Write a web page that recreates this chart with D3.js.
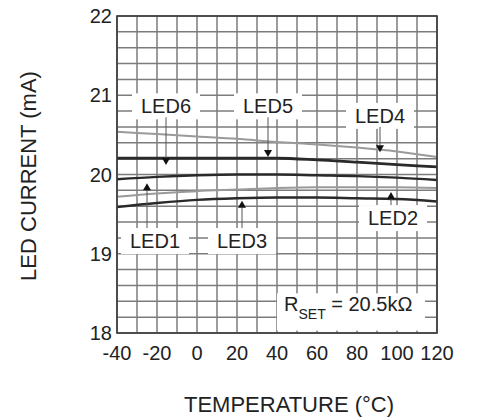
<!DOCTYPE html>
<html>
<head>
<meta charset="utf-8">
<script src="https://cdn.jsdelivr.net/npm/d3@7"></script>
<style>
body { margin: 0; background: #fff; }
text { font-family: "Liberation Sans", Arial, sans-serif; fill: #222; }
</style>
</head>
<body>
<svg id="viz" width="480" height="418"></svg>
<script>
// data
const temps = [-40, -20, 0, 20, 40, 60, 80, 100, 120];
const led4 = [20.54, 20.51, 20.48, 20.45, 20.41, 20.38, 20.34, 20.29, 20.22];
const led5 = [20.21, 20.21, 20.21, 20.21, 20.21, 20.19, 20.16, 20.13, 20.10];
const led6 = [20.20, 20.20, 20.20, 20.20, 20.20, 20.18, 20.15, 20.12, 20.09];
const led1 = [19.94, 19.97, 19.99, 20.00, 20.00, 19.99, 19.98, 19.96, 19.93];
const led3 = [19.72, 19.76, 19.79, 19.81, 19.83, 19.84, 19.84, 19.84, 19.83];
const led2 = [19.59, 19.64, 19.68, 19.70, 19.71, 19.71, 19.70, 19.69, 19.66];
const xTicks = [-40, -20, 0, 20, 40, 60, 80, 100, 120];
const yTicks = [18, 19, 20, 21, 22];

// label: text, label pos (T, mA), arrow tip (T, mA), direction
const labels = [
    {name: "LED6", lx: -15.5, ly: 20.86, tx: -15.5, ty: 20.12, dir: "down"},
    {name: "LED5", lx: 35.5, ly: 20.86, tx: 35.5, ty: 20.22, dir: "down"},
    {name: "LED4", lx: 91.5, ly: 20.74, tx: 91.5, ty: 20.28, dir: "down"},
    {name: "LED1", lx: -21, ly: 19.16, tx: -25, ty: 19.89, dir: "up"},
    {name: "LED3", lx: 22.5, ly: 19.16, tx: 22.5, ty: 19.67, dir: "up"},
    {name: "LED2", lx: 98, ly: 19.45, tx: 97, ty: 19.78, dir: "up"}
];

const series = [
    {v: led4, c: "#9a9a9a", w: 2},
    {v: led3, c: "#9a9a9a", w: 2},
    {v: led6, c: "#2a2a2a", w: 2},
    {v: led5, c: "#2a2a2a", w: 2},
    {v: led1, c: "#2a2a2a", w: 2.4},
    {v: led2, c: "#2a2a2a", w: 2.4}
];

const svg = d3.select("#viz");
const margin = {top: 16, right: 43, bottom: 85, left: 117};
const width = 480 - margin.left - margin.right;
const height = 418 - margin.top - margin.bottom;

const x = d3.scaleLinear().domain([-40, 120]).range([0, width]);
const y = d3.scaleLinear().domain([18, 22]).range([height, 0]);

const g = svg.append("g").attr("transform", `translate(${margin.left},${margin.top})`);

// grid, every 10 deg and every 0.2 mA
g.append("g").selectAll("line.vg")
    .data(d3.range(-40, 121, 10))
    .enter().append("line")
    .attr("x1", d => x(d)).attr("x2", d => x(d))
    .attr("y1", 0).attr("y2", height)
    .style("stroke", "#7c7c7c").style("stroke-width", 1.5);

g.append("g").selectAll("line.hg")
    .data(d3.range(0, 21).map(i => 18 + i * 0.2))
    .enter().append("line")
    .attr("x1", 0).attr("x2", width)
    .attr("y1", d => y(d)).attr("y2", d => y(d))
    .style("stroke", "#7c7c7c").style("stroke-width", 1.5);

// curves
const line = d3.line()
    .x((d, i) => x(temps[i]))
    .y(d => y(d))
    .curve(d3.curveMonotoneX);

g.selectAll(".curve")
    .data(series)
    .enter().append("path")
    .attr("class", "curve")
    .attr("d", d => line(d.v))
    .style("fill", "none")
    .style("stroke", d => d.c)
    .style("stroke-width", d => d.w);

// labels with white boxes, stems and arrowheads
labels.forEach(l => {
    const px = x(l.lx), py = y(l.ly);
    const tx = x(l.tx), ty = y(l.ty);
    g.append("rect")
        .attr("x", px - 34).attr("y", py - 13)
        .attr("width", 68).attr("height", 26)
        .style("fill", "#fff");
    const stemStart = l.dir == "down" ? py + 11 : py - 13;
    const baseY = l.dir == "down" ? ty - 7 : ty + 7;
    g.append("line")
        .attr("x1", tx).attr("x2", tx)
        .attr("y1", stemStart).attr("y2", baseY)
        .style("stroke", "#555").style("stroke-width", 1);
    g.append("path")
        .attr("d", `M${tx - 4},${baseY} L${tx + 4},${baseY} L${tx},${ty} Z`)
        .style("fill", "#111");
    g.append("text")
        .attr("x", px).attr("y", py + 7)
        .attr("text-anchor", "middle")
        .style("font-size", "20px")
        .text(l.name);
});

// R_SET note
g.append("rect")
    .attr("x", x(40)).attr("y", y(18.5))
    .attr("width", x(114) - x(40)).attr("height", y(18.03) - y(18.5))
    .style("fill", "#fff");
const note = g.append("text")
    .attr("x", x(43.5)).attr("y", y(18.28))
    .style("font-size", "20px");
note.append("tspan").text("R");
note.append("tspan").attr("dy", 8).style("font-size", "14px").text("SET");
note.append("tspan").attr("dy", -8).text(" = 20.5k\u03A9");

// frame
g.append("rect")
    .attr("width", width).attr("height", height)
    .style("fill", "none").style("stroke", "#3a3a3a").style("stroke-width", 1.6);

// tick labels
g.selectAll(".xt")
    .data(xTicks)
    .enter().append("text")
    .attr("x", d => x(d)).attr("y", height + 27)
    .attr("text-anchor", "middle")
    .style("font-size", "20px")
    .text(d => d);

g.selectAll(".yt")
    .data(yTicks)
    .enter().append("text")
    .attr("x", -5).attr("y", d => y(d) + 7)
    .attr("text-anchor", "end")
    .style("font-size", "20px")
    .text(d => d);

// axis titles
svg.append("text")
    .attr("x", 289).attr("y", 412)
    .attr("text-anchor", "middle")
    .style("font-size", "22px")
    .text("TEMPERATURE (\u00B0C)");

svg.append("text")
    .attr("transform", "translate(36,176) rotate(-90)")
    .attr("text-anchor", "middle")
    .style("font-size", "22px")
    .text("LED CURRENT (mA)");
</script>
</body>
</html>
